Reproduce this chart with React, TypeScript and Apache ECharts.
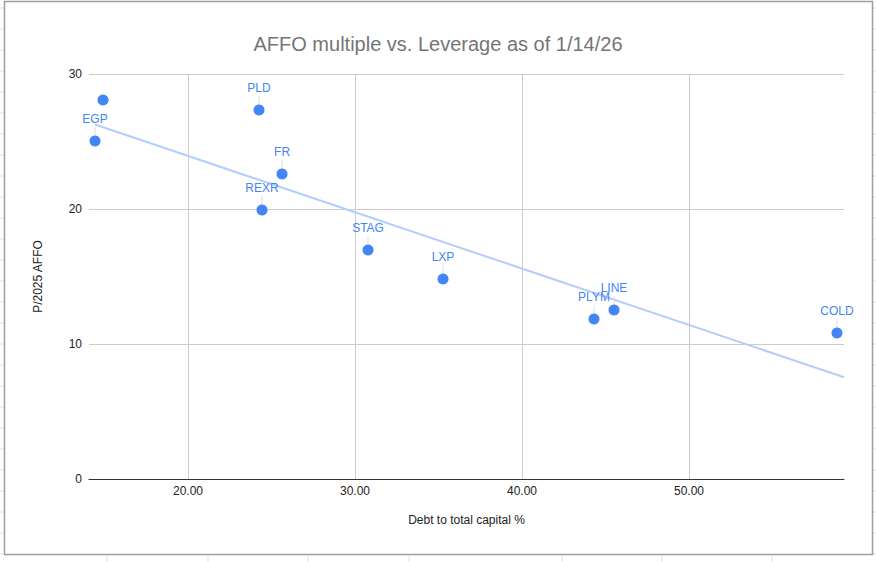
import React, { useEffect, useRef } from "react";
import * as echarts from "echarts";

const names = ["", "EGP", "PLD", "FR", "REXR", "STAG", "LXP", "PLYM", "LINE", "COLD"];
const debtPct = [14.91, 14.43, 24.25, 25.63, 24.43, 30.78, 35.27, 44.31, 45.51, 58.86];
const pAffo = [28.07, 25.04, 27.33, 22.59, 19.93, 16.96, 14.81, 11.85, 12.52, 10.81];
const xTickValues = [20, 30, 40, 50];
const xMin = 14.07;
const xMax = 59.28;

const FONT = "'Liberation Sans', Arial, sans-serif";

function regression(xs: number[], ys: number[]) {
  const n = xs.length;
  const mx = xs.reduce((a, b) => a + b, 0) / n;
  const my = ys.reduce((a, b) => a + b, 0) / n;
  let sxy = 0;
  let sxx = 0;
  for (let i = 0; i < n; i++) {
    sxy += (xs[i] - mx) * (ys[i] - my);
    sxx += (xs[i] - mx) * (xs[i] - mx);
  }
  const slope = sxy / sxx;
  return { slope, intercept: my - slope * mx };
}

export default function App() {
  const ref = useRef<HTMLDivElement>(null);
  useEffect(() => {
    if (!ref.current) return;
    const chart = echarts.init(ref.current, undefined, { renderer: "svg" });
    const { slope, intercept } = regression(debtPct, pAffo);
    const trendStart = Math.min(...debtPct);
    const trend = [
      [trendStart, intercept + slope * trendStart],
      [xMax, intercept + slope * xMax],
    ];
    const points = debtPct.map((x, i) => [x, pAffo[i]]);

    const bg: any[] = [];
    for (let y = 8; y < 562; y += 21) {
      bg.push({ type: "line", shape: { x1: 0, y1: y, x2: 4, y2: y }, style: { stroke: "#e0e0e0", lineWidth: 1 }, silent: true });
      bg.push({ type: "line", shape: { x1: 873, y1: y, x2: 876, y2: y }, style: { stroke: "#e0e0e0", lineWidth: 1 }, silent: true });
    }
    [107, 208, 308, 409, 562, 662, 772].forEach((x) => {
      bg.push({ type: "line", shape: { x1: x, y1: 556, x2: x, y2: 562 }, style: { stroke: "#e0e0e0", lineWidth: 1 }, silent: true });
    });
    bg.push({
      type: "rect",
      shape: { x: 4.5, y: 1.5, width: 868, height: 553 },
      style: { fill: "none", stroke: "#9e9e9e", lineWidth: 1.5 },
      silent: true,
    });

    chart.setOption({
      animation: false,
      backgroundColor: "#ffffff",
      title: {
        text: "AFFO multiple vs. Leverage as of 1/14/26",
        left: "center",
        top: 29,
        textStyle: { fontFamily: FONT, fontSize: 20, fontWeight: "normal", color: "#757575" },
      },
      graphic: bg,
      grid: { left: 89, right: 32, top: 74, bottom: 83, containLabel: false },
      xAxis: {
        type: "value",
        min: xMin,
        max: xMax,
        name: "Debt to total capital %",
        nameLocation: "middle",
        nameGap: 35,
        nameTextStyle: { fontFamily: FONT, fontSize: 12, color: "#222" },
        axisLine: { show: true, onZero: false, lineStyle: { color: "#333", width: 1 } },
        axisTick: { show: false, customValues: xTickValues },
        axisLabel: {
          customValues: xTickValues,
          formatter: (v: number) => v.toFixed(2),
          fontFamily: FONT,
          fontSize: 12,
          color: "#222",
          margin: 6,
        },
        splitLine: { show: true, lineStyle: { color: "#cccccc", width: 1 } },
      },
      yAxis: {
        type: "value",
        min: 0,
        max: 30,
        interval: 10,
        name: "P/2025 AFFO",
        nameLocation: "middle",
        nameGap: 45,
        nameRotate: 90,
        nameTextStyle: { fontFamily: FONT, fontSize: 12, color: "#222" },
        axisLine: { show: false },
        axisTick: { show: false },
        axisLabel: { fontFamily: FONT, fontSize: 12, color: "#222", margin: 7 },
        splitLine: { show: true, lineStyle: { color: "#cccccc", width: 1 } },
      },
      series: [
        {
          type: "line",
          data: trend,
          symbol: "none",
          lineStyle: { color: "#b3cefa", width: 2 },
          z: 2,
          silent: true,
        },
        {
          type: "custom",
          data: points,
          z: 3,
          silent: true,
          renderItem: (params: any, api: any) => {
            const name = names[params.dataIndex];
            if (!name) return null;
            const c = api.coord([api.value(0), api.value(1)]);
            return {
              type: "group",
              children: [
                {
                  type: "line",
                  shape: { x1: c[0], y1: c[1] - 14, x2: c[0], y2: c[1] - 5 },
                  style: { stroke: "#dddddd", lineWidth: 1 },
                },
                {
                  type: "text",
                  x: c[0],
                  y: c[1] - 22,
                  style: {
                    text: name,
                    fill: "#4285f4",
                    font: `12px ${FONT}`,
                    align: "center",
                    verticalAlign: "middle",
                  },
                },
              ],
            };
          },
        },
        {
          type: "scatter",
          data: points,
          symbolSize: 11,
          itemStyle: { color: "#4285f4", opacity: 1 },
          z: 4,
          silent: true,
        },
      ],
    });
    return () => chart.dispose();
  }, []);
  return (
    <div
      ref={ref}
      style={{ position: "absolute", left: 0, top: 0, width: 876, height: 562, background: "#fff" }}
    />
  );
}
